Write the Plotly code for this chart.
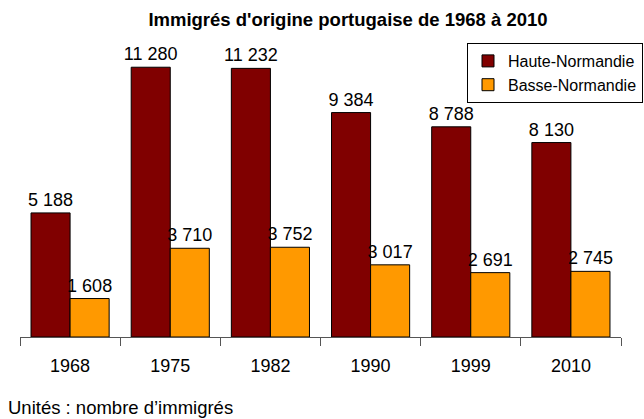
import plotly.graph_objects as go

years = ["1968", "1975", "1982", "1990", "1999", "2010"]
haute = [5188, 11280, 11232, 9384, 8788, 8130]
basse = [1608, 3710, 3752, 3017, 2691, 2745]
series_names = ["Haute-Normandie", "Basse-Normandie"]
colors = ["#800000", "#FF9900"]


def fr(v):
    return f"{v:,}".replace(",", " ")


FONT = "Arial, Liberation Sans, sans-serif"

fig = go.Figure()
for name, vals, col in zip(series_names, [haute, basse], colors):
    fig.add_trace(go.Bar(
        x=years, y=vals, name=name,
        marker=dict(color=col, line=dict(color="#000000", width=1)),
        text=[fr(v) for v in vals], textposition="outside",
        constraintext="none",
        textfont=dict(family=FONT, size=18, color="#000000"),
        cliponaxis=False,
    ))

fig.update_layout(
    width=644, height=419,
    margin=dict(l=20, r=23, t=50, b=82, autoexpand=False),
    paper_bgcolor="white", plot_bgcolor="white",
    barmode="group", bargap=0.22, bargroupgap=0,
    font=dict(family=FONT, color="#000000"),
    title=dict(text="<b>Immigrés d'origine portugaise de 1968 à 2010</b>",
               x=348 / 644, xanchor="center", y=1 - 20 / 419, yanchor="middle",
               font=dict(family=FONT, size=18.5, color="#000000")),
    legend=dict(x=(467 - 20) / 601, y=(337 - 43) / 287, xanchor="left", yanchor="top",
                bordercolor="#000000", borderwidth=1, bgcolor="white",
                font=dict(family=FONT, size=16, color="#000000"),
                tracegroupgap=0),
    xaxis=dict(showline=True, linecolor="#555555", linewidth=1, automargin=False,
               ticks="outside", tickson="boundaries", ticklen=8, tickcolor="#555555",
               ticklabelstandoff=12,
               tickfont=dict(family=FONT, size=18, color="#000000"),
               showgrid=False),
    yaxis=dict(visible=False, range=[0, 12000], showgrid=False, automargin=False),
    annotations=[dict(text="Unités : nombre d’immigrés", xref="paper", yref="paper",
                      x=(6 - 20) / 601, y=(337 - 407) / 287, xanchor="left", yanchor="middle",
                      showarrow=False, font=dict(family=FONT, size=18.5, color="#000000"))],
)

fig.write_html("out.html", config={"displayModeBar": False},
               post_script="document.body.style.margin='0';document.body.style.overflow='hidden';")
